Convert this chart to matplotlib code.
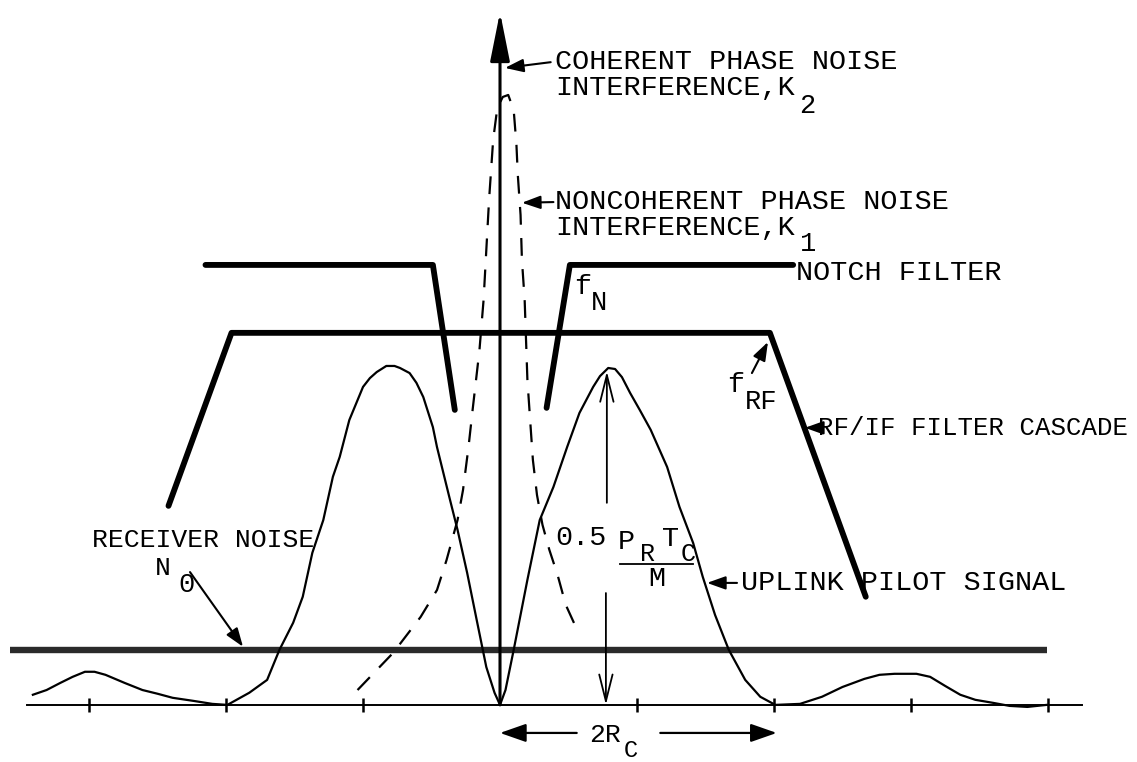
import matplotlib
matplotlib.use("Agg")
import matplotlib.pyplot as plt

plt.rcParams['font.family'] = ['Liberation Mono', 'DejaVu Sans Mono']

# frequency offset in units of R_C, level relative to the pilot main-lobe peak
sig_f = [-3.41, -3.31, -3.21, -3.12, -3.03, -2.96, -2.88, -2.74, -2.61, -2.50,
         -2.39, -2.24, -2.10, -1.99, -1.83, -1.70, -1.61, -1.51, -1.44, -1.37,
         -1.29, -1.22, -1.17, -1.10, -1.00, -0.95, -0.90, -0.83, -0.77, -0.73,
         -0.66, -0.61, -0.56, -0.49, -0.46, -0.37, -0.31, -0.24, -0.17, -0.10,
         -0.04, 0.00, 0.04, 0.10, 0.20, 0.29, 0.39, 0.49, 0.58, 0.68,
         0.73, 0.79, 0.84, 0.89, 0.95, 1.02, 1.10, 1.22, 1.31, 1.41,
         1.48, 1.57, 1.67, 1.79, 1.90, 2.01, 2.19, 2.35, 2.50, 2.66,
         2.77, 2.88, 3.04, 3.14, 3.25, 3.36, 3.47, 3.60, 3.72, 3.85,
         3.99]
sig_p = [0.030, 0.044, 0.065, 0.083, 0.098, 0.098, 0.089, 0.065, 0.044, 0.033,
         0.021, 0.012, 0.003, 0.000, 0.036, 0.074, 0.163, 0.243, 0.320, 0.450,
         0.547, 0.675, 0.734, 0.843, 0.941, 0.967, 0.985, 1.003, 1.003, 0.997,
         0.982, 0.953, 0.911, 0.822, 0.763, 0.615, 0.518, 0.391, 0.251, 0.112,
         0.036, 0.000, 0.044, 0.163, 0.370, 0.547, 0.645, 0.763, 0.864, 0.941,
         0.973, 0.997, 0.994, 0.970, 0.923, 0.873, 0.814, 0.704, 0.586, 0.479,
         0.379, 0.266, 0.163, 0.074, 0.024, 0.000, 0.003, 0.024, 0.053, 0.077,
         0.089, 0.092, 0.092, 0.083, 0.056, 0.030, 0.015, 0.006, -0.003, -0.006,
         0.000]

# noncoherent phase noise skirt around the carrier
pn_f = [-1.04, -0.78, -0.58, -0.46, -0.39, -0.31, -0.27, -0.23, -0.20, -0.15,
        -0.12, -0.10, -0.08, -0.05, -0.02, 0.02, 0.06, 0.10, 0.12, 0.13,
        0.15, 0.16, 0.18, 0.19, 0.20, 0.22, 0.24, 0.27, 0.31, 0.36,
        0.42, 0.48, 0.58]
pn_p = [0.044, 0.154, 0.260, 0.340, 0.429, 0.547, 0.636, 0.763, 0.873, 1.050,
        1.198, 1.346, 1.494, 1.672, 1.766, 1.799, 1.805, 1.760, 1.657, 1.568,
        1.450, 1.317, 1.198, 1.080, 0.962, 0.843, 0.725, 0.621, 0.533, 0.459,
        0.385, 0.296, 0.207]

# notch filter edges (f_N) and RF/IF cascade response (f_RF)
notch_lo_f = [-2.15, -0.49, -0.33]
notch_lo_p = [1.302, 1.302, 0.873]
notch_hi_f = [0.34, 0.51, 2.14]
notch_hi_p = [0.879, 1.302, 1.302]
rf_f = [-2.42, -1.96, 1.97, 2.67]
rf_p = [0.589, 1.101, 1.101, 0.320]

noise_level = 0.163
noise_f = [-3.58, 3.99]
axis_f = [-3.45, 4.25]
tick_f = [-3, -2, -1, 1, 2, 3, 4]
carrier_top = 2.05
pilot_peak_f = 0.78
pilot_peak = 0.997
chip_span = [0.0, 2.02]

fig = plt.figure(figsize=(11.37, 7.62), dpi=100)
ax = fig.add_axes([0, 0, 1, 1])
ax.set_xlim(-3.65, 4.65)
ax.set_ylim(-0.169, 2.086)
ax.axis('off')

# frequency axis with tick marks
ax.plot(axis_f, [0, 0], color='k', lw=1.4)
ax.vlines(tick_f, -0.021, 0.021, color='k', lw=1.8)

# receiver noise floor
ax.plot(noise_f, [noise_level] * 2, color='#2a2a2a', lw=4.6, solid_capstyle='butt')

# filters
for fx, fy in [(notch_lo_f, notch_lo_p), (notch_hi_f, notch_hi_p), (rf_f, rf_p)]:
    ax.plot(fx, fy, color='k', lw=4.2, solid_capstyle='round', solid_joinstyle='round')

# pilot spectrum and phase-noise skirt
ax.plot(sig_f, sig_p, color='k', lw=1.6, solid_joinstyle='round')
ax.plot(pn_f, pn_p, color='k', lw=1.6, linestyle=(0, (8, 6)))

# coherent carrier component
ax.annotate('', xy=(0, carrier_top), xytext=(0, 0),
            arrowprops=dict(arrowstyle='-|>,head_length=1.0,head_width=0.2',
                            mutation_scale=30, color='k', lw=2.2,
                            shrinkA=0, shrinkB=0))

arrow_kw = dict(arrowstyle='-|>,head_length=0.7,head_width=0.25',
                mutation_scale=16, color='k', lw=1.5, shrinkA=0, shrinkB=0)
open_kw = dict(arrowstyle='->,head_length=1.2,head_width=0.3',
               mutation_scale=16, color='k', lw=1.3, shrinkA=0, shrinkB=0)

fs = 20.5
txt = dict(fontsize=fs, ha='left', va='center', color='k')
sub = dict(fontsize=fs - 1, ha='left', va='center', color='k')

# labels for the carrier and phase noise
ax.annotate('', xy=(0.036, 1.885), xytext=(0.37, 1.902), arrowprops=arrow_kw)
ax.text(0.405, 1.902, 'COHERENT PHASE NOISE', **txt)
ax.text(0.405, 1.825, 'INTERFERENCE,K', **txt)
ax.text(2.18, 1.772, '2', **sub)

ax.annotate('', xy=(0.16, 1.486), xytext=(0.39, 1.488), arrowprops=arrow_kw)
ax.text(0.405, 1.488, 'NONCOHERENT PHASE NOISE', **txt)
ax.text(0.405, 1.411, 'INTERFERENCE,K', **txt)
ax.text(2.19, 1.364, '1', **sub)

# filter labels
ax.text(2.16, 1.278, 'NOTCH FILTER', **txt)
ax.text(0.54, 1.237, 'f', **txt)
ax.text(0.66, 1.189, 'N', **sub)
ax.annotate('', xy=(1.956, 1.074), xytext=(1.839, 0.982), arrowprops=arrow_kw)
ax.text(1.66, 0.947, 'f', **txt)
ax.text(1.79, 0.896, 'RF', **sub)
ax.annotate('', xy=(2.226, 0.820), xytext=(2.32, 0.820), arrowprops=arrow_kw)
ax.text(2.32, 0.820, 'RF/IF FILTER CASCADE', fontsize=18.5, ha='left', va='center')

# receiver noise label
ax.text(-2.98, 0.488, 'RECEIVER NOISE', fontsize=19, ha='left', va='center')
ax.text(-2.52, 0.405, 'N', fontsize=19, ha='left', va='center')
ax.text(-2.35, 0.355, '0', **sub)
ax.annotate('', xy=(-1.876, 0.172), xytext=(-2.263, 0.393), arrowprops=arrow_kw)

# pilot peak level 0.5 P_R T_C / M
ax.annotate('', xy=(pilot_peak_f, pilot_peak - 0.01), xytext=(pilot_peak_f, 0.598),
            arrowprops=open_kw)
ax.annotate('', xy=(pilot_peak_f - 0.007, 0), xytext=(pilot_peak_f - 0.007, 0.331),
            arrowprops=open_kw)
ax.text(0.40, 0.494, '0.5', **txt)
ax.text(0.86, 0.482, 'P', **txt)
ax.text(1.02, 0.446, 'R', fontsize=18, ha='left', va='center')
ax.text(1.18, 0.490, 'T', **txt)
ax.text(1.32, 0.446, 'C', fontsize=18, ha='left', va='center')
ax.plot([0.876, 1.409], [0.418, 0.418], color='k', lw=1.3)
ax.text(1.146, 0.372, 'M', fontsize=fs, ha='center', va='center')
ax.annotate('', xy=(1.511, 0.361), xytext=(1.73, 0.361), arrowprops=arrow_kw)
ax.text(1.76, 0.361, 'UPLINK PILOT SIGNAL', **txt)

# chip-rate span
ax.annotate('', xy=(chip_span[0], -0.083), xytext=(0.56, -0.083),
            arrowprops=dict(arrowstyle='-|>,head_length=1.0,head_width=0.35',
                            mutation_scale=16, color='k', lw=1.6, shrinkA=0, shrinkB=0))
ax.annotate('', xy=(chip_span[1], -0.083), xytext=(1.17, -0.083),
            arrowprops=dict(arrowstyle='-|>,head_length=1.0,head_width=0.35',
                            mutation_scale=16, color='k', lw=1.6, shrinkA=0, shrinkB=0))
ax.text(0.65, -0.090, '2R', fontsize=19, ha='left', va='center')
ax.text(0.90, -0.135, 'C', fontsize=17, ha='left', va='center')

fig.savefig('out.png', dpi=100, facecolor='white')
